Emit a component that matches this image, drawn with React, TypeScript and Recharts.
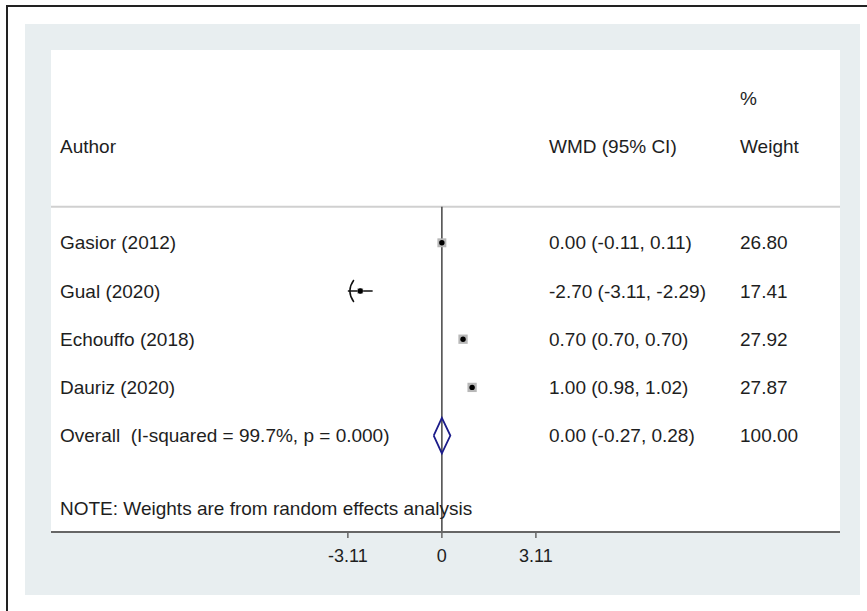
import { CartesianGrid, ComposedChart, Line, ReferenceLine, Scatter, XAxis, YAxis } from 'recharts';

const studies = ['Gasior (2012)', 'Gual (2020)', 'Echouffo (2018)', 'Dauriz (2020)'];
const wmd = [0.0, -2.7, 0.7, 1.0];
const ciLow = [-0.11, -3.11, 0.7, 0.98];
const ciHigh = [0.11, -2.29, 0.7, 1.02];
const weights = [26.8, 17.41, 27.92, 27.87];

const overallLabel = 'Overall  (I-squared = 99.7%, p = 0.000)';
const overall = { est: 0.0, lo: -0.27, hi: 0.28, weight: 100.0 };

const xTicks = [-3.11, 0, 3.11];
const note = 'NOTE: Weights are from random effects analysis';

const FONT = '"Liberation Sans", Arial, sans-serif';
const TEXT = '#1e1e1e';
const COL_AUTHOR = 60;
const COL_WMD = 549;
const COL_WEIGHT = 740;

const fmt = (v: number) => v.toFixed(2);

// row index = y value; header rows above 0
const textRows = [
    { x: 0, y: -3, author: '', ci: '', weight: '%' },
    { x: 0, y: -2, author: 'Author', ci: 'WMD (95% CI)', weight: 'Weight' },
    ...studies.map((s, i) => ({
        x: 0,
        y: i,
        author: s,
        ci: `${fmt(wmd[i])} (${fmt(ciLow[i])}, ${fmt(ciHigh[i])})`,
        weight: fmt(weights[i]),
    })),
    {
        x: 0,
        y: studies.length,
        author: overallLabel,
        ci: `${fmt(overall.est)} (${fmt(overall.lo)}, ${fmt(overall.hi)})`,
        weight: fmt(overall.weight),
    },
    { x: 0, y: 5.5, author: note, ci: '', weight: '' },
];

const points = studies.map((s, i) => ({ x: wmd[i], y: i, w: weights[i], name: s }));

const diamondH = 0.37;
const diamond = [
    { x: overall.lo, y: studies.length },
    { x: overall.est, y: studies.length - diamondH },
    { x: overall.hi, y: studies.length },
    { x: overall.est, y: studies.length + diamondH },
    { x: overall.lo, y: studies.length },
];

const TextShape = (props: any) => {
    const { cy, payload } = props;
    const common = { y: cy, dy: '0.35em', fontSize: 19, fill: TEXT, fontFamily: FONT, style: { whiteSpace: 'pre' as const } };
    return (
        <g>
            {payload.author && <text x={COL_AUTHOR} {...common}>{payload.author}</text>}
            {payload.ci && <text x={COL_WMD} {...common}>{payload.ci}</text>}
            {payload.weight && <text x={COL_WEIGHT} {...common}>{payload.weight}</text>}
        </g>
    );
};

const BoxShape = (props: any) => {
    const { cx, cy, payload } = props;
    const side = payload.w / 3;
    return (
        <g>
            <rect x={cx - side / 2} y={cy - side / 2} width={side} height={side} fill="#b8b8b8" />
            <circle cx={cx} cy={cy} r={2.7} fill="#000" />
        </g>
    );
};

// arrow when the CI runs past the axis range
const arrowDot = (clipped: boolean) => (props: any) => {
    const { cx, cy, index } = props;
    if (!clipped || index !== 0) return <g key={`d${index}`} />;
    return (
        <path
            key={`d${index}`}
            d={`M ${cx + 6} ${cy - 11} Q ${cx - 2} ${cy} ${cx + 6} ${cy + 11}`}
            fill="none"
            stroke="#111"
            strokeWidth={1.5}
        />
    );
};

export default function App() {
    return (
        <div style={{ position: 'absolute', left: 0, top: 0, width: 867, height: 611, background: '#fff', overflow: 'hidden' }}>
            <div style={{ position: 'absolute', left: 6, top: 5, width: 900, height: 700, border: '2px solid #222' }} />
            <div style={{ position: 'absolute', left: 25, top: 24, width: 835, height: 571, background: '#e8eef0' }} />
            <div style={{ position: 'absolute', left: 0, top: 0 }}>
                <ComposedChart
                    width={867}
                    height={611}
                    margin={{ top: 50, right: 27, bottom: 49, left: 51 }}
                    style={{ fontFamily: FONT }}
                >
                    <CartesianGrid fill="#ffffff" horizontal={false} vertical={false} />
                    <XAxis
                        type="number"
                        dataKey="x"
                        domain={[-12.93, 13.17]}
                        allowDataOverflow
                        ticks={xTicks}
                        tickFormatter={(v: number) => (v === 0 ? '0' : v.toFixed(2))}
                        height={30}
                        stroke="#555"
                        axisLine={{ stroke: '#666', strokeWidth: 2 }}
                        tickLine={{ stroke: '#666', strokeWidth: 1.5 }}
                        tickSize={6}
                        tickMargin={11}
                        tick={{ fontSize: 18, fill: TEXT, fontFamily: FONT }}
                    />
                    <YAxis type="number" dataKey="y" domain={[-4, 6]} reversed hide allowDataOverflow />
                    <ReferenceLine y={-0.75} stroke="#d0d0d0" strokeWidth={2} />
                    <ReferenceLine
                        segment={[{ x: 0, y: -0.75 }, { x: 0, y: 6 }]}
                        stroke="#444"
                        strokeWidth={1.5}
                        ifOverflow="visible"
                    />
                    <Scatter data={points} dataKey="y" shape={BoxShape} isAnimationActive={false} />
                    {studies.map((s, i) => (
                        <Line
                            key={s}
                            data={[{ x: ciLow[i], y: i }, { x: ciHigh[i], y: i }]}
                            dataKey="y"
                            type="linear"
                            stroke="#111"
                            strokeWidth={1.5}
                            dot={arrowDot(ciLow[i] <= xTicks[0])}
                            activeDot={false}
                            isAnimationActive={false}
                        />
                    ))}
                    <Line
                        data={diamond}
                        dataKey="y"
                        type="linear"
                        stroke="#1c1c8a"
                        strokeWidth={1.8}
                        dot={false}
                        activeDot={false}
                        isAnimationActive={false}
                    />
                    <Scatter data={textRows} dataKey="y" shape={TextShape} isAnimationActive={false} />
                </ComposedChart>
            </div>
        </div>
    );
}
